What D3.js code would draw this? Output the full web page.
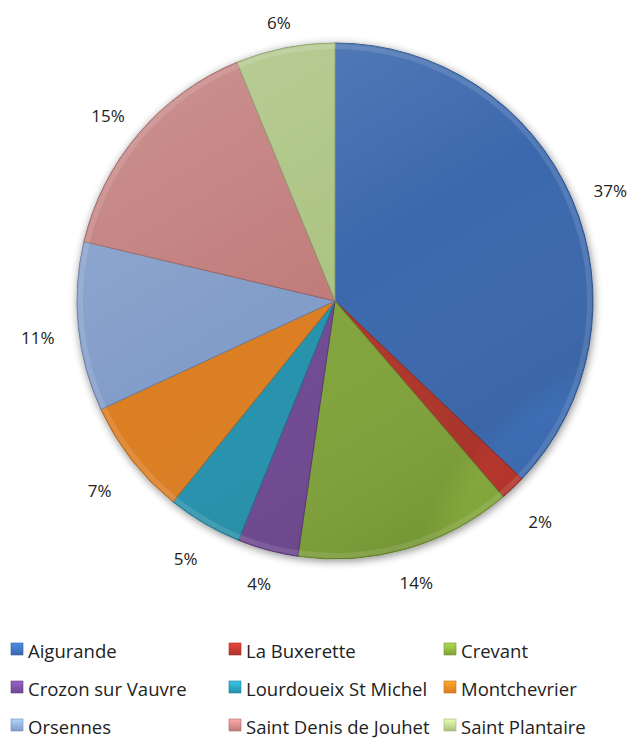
<!DOCTYPE html>
<html>
<head>
<meta charset="utf-8">
<script src="https://cdn.jsdelivr.net/npm/d3@7/dist/d3.min.js"></script>
<style>
  html, body { margin: 0; padding: 0; background: #fff; }
  svg { display: block; }
  text { font-family: "Open Sans", "Noto Sans", sans-serif; fill: #222; }
</style>
</head>
<body>
<svg id="chart" width="639" height="742"></svg>
<script>
// Communes and their share of the total (percent)
const communes = [
  "Aigurande", "La Buxerette", "Crevant",
  "Crozon sur Vauvre", "Lourdoueix St Michel", "Montchevrier",
  "Orsennes", "Saint Denis de Jouhet", "Saint Plantaire"
];
const shares = [37.1, 1.6, 13.6, 3.8, 4.7, 7.3, 10.6, 15.1, 6.2];
const colours = [
  "#3f72bd", "#c0392f", "#8db33f",
  "#7a4fa0", "#2aa0bd", "#f08a24",
  "#8eacdc", "#d38987", "#bcd68f"
];

const data = communes.map((name, i) => ({ name, value: shares[i], colour: colours[i] }));

const svg = d3.select("#chart");
const cx = 335, cy = 301, R = 258;

const defs = svg.append("defs");

// soft drop shadow round the pie
const shadow = defs.append("filter").attr("id", "shadow")
  .attr("x", "-20%").attr("y", "-20%").attr("width", "140%").attr("height", "140%");
shadow.append("feGaussianBlur").attr("in", "SourceAlpha").attr("stdDeviation", 4).attr("result", "b");
shadow.append("feOffset").attr("in", "b").attr("dx", 1).attr("dy", 2).attr("result", "o");
shadow.append("feComponentTransfer").attr("in", "o").attr("result", "s")
  .append("feFuncA").attr("type", "linear").attr("slope", 0.45);
const merge = shadow.append("feMerge");
merge.append("feMergeNode").attr("in", "s");
merge.append("feMergeNode").attr("in", "SourceGraphic");

// per-slice shading: slightly lighter near the centre, darker towards the rim
data.forEach((d, i) => {
  const g = defs.append("radialGradient").attr("id", "fill" + i)
    .attr("gradientUnits", "userSpaceOnUse")
    .attr("cx", cx).attr("cy", cy).attr("r", R);
  const c = d3.color(d.colour);
  g.append("stop").attr("offset", "0%").attr("stop-color", c.brighter(0.15));
  g.append("stop").attr("offset", "88%").attr("stop-color", c);
  g.append("stop").attr("offset", "100%").attr("stop-color", c.darker(0.25));
});

// overall sheen across the pie
const sheen = defs.append("linearGradient").attr("id", "sheen")
  .attr("x1", "0").attr("y1", "0").attr("x2", "0.6").attr("y2", "1");
sheen.append("stop").attr("offset", "0%").attr("stop-color", "#fff").attr("stop-opacity", 0.18);
sheen.append("stop").attr("offset", "55%").attr("stop-color", "#fff").attr("stop-opacity", 0);
sheen.append("stop").attr("offset", "100%").attr("stop-color", "#000").attr("stop-opacity", 0.08);

const pie = d3.pie().value(d => d.value).sort(null);
const arcs = pie(data);
const arc = d3.arc().innerRadius(0).outerRadius(R);
const bevel = d3.arc().innerRadius(R - 6).outerRadius(R - 1);

const g = svg.append("g").attr("transform", `translate(${cx},${cy})`);

const slices = g.append("g").attr("filter", "url(#shadow)");
slices.selectAll("path.slice").data(arcs).join("path")
  .attr("class", "slice")
  .attr("d", arc)
  .attr("fill", (d, i) => `url(#fill${i})`)
  .attr("stroke", d => d3.color(d.data.colour).darker(0.9))
  .attr("stroke-width", 1)
  .attr("stroke-linejoin", "round");

// light bevel ring along the outer edge
g.selectAll("path.bevel").data(arcs).join("path")
  .attr("class", "bevel")
  .attr("d", bevel)
  .attr("fill", "#fff")
  .attr("fill-opacity", 0.12);

g.append("circle").attr("r", R).attr("fill", "url(#sheen)").attr("pointer-events", "none");

// percentage labels outside the rim: the text box keeps a roughly constant gap from the edge
const gap = 20, halfW = 20, halfH = 8;
function labelPos(d) {
  const a = (d.startAngle + d.endAngle) / 2;
  const s = Math.sin(a), c = Math.cos(a);
  const r = R + gap + Math.abs(s) * halfW + Math.abs(c) * halfH;
  // nudge toward the visual centre of the digits
  const dy = 7 * Math.abs(s) + Math.max(0, 4 * c);
  return [r * s, -r * c + dy];
}
g.selectAll("text.pct").data(arcs).join("text")
  .attr("class", "pct")
  .attr("transform", d => `translate(${labelPos(d)})`)
  .attr("text-anchor", "middle")
  .attr("dominant-baseline", "central")
  .style("font-size", "17px")
  .text(d => Math.round(d.data.value) + "%");

// legend, three columns
const colX = [11, 229, 444];
const rowY = [650, 688, 726];
const legend = svg.append("g");
const items = legend.selectAll("g").data(data).join("g")
  .attr("transform", (d, i) => `translate(${colX[i % 3]},${rowY[Math.floor(i / 3)]})`);

data.forEach((d, i) => {
  const lg = defs.append("linearGradient").attr("id", "sw" + i)
    .attr("x1", 0).attr("y1", 0).attr("x2", 0).attr("y2", 1);
  lg.append("stop").attr("offset", "0%").attr("stop-color", d3.color(d.colour).brighter(0.6));
  lg.append("stop").attr("offset", "100%").attr("stop-color", d3.color(d.colour).darker(0.3));
});

items.append("rect")
  .attr("x", 0).attr("y", -7).attr("width", 12).attr("height", 12)
  .attr("fill", (d, i) => `url(#sw${i})`)
  .attr("stroke", d => d3.color(d.colour).darker(0.6))
  .attr("stroke-width", 0.6);

items.append("text")
  .attr("x", 17).attr("y", 0)
  .attr("dominant-baseline", "central")
  .style("font-size", "18.5px")
  .text(d => d.name);
</script>
</body>
</html>
